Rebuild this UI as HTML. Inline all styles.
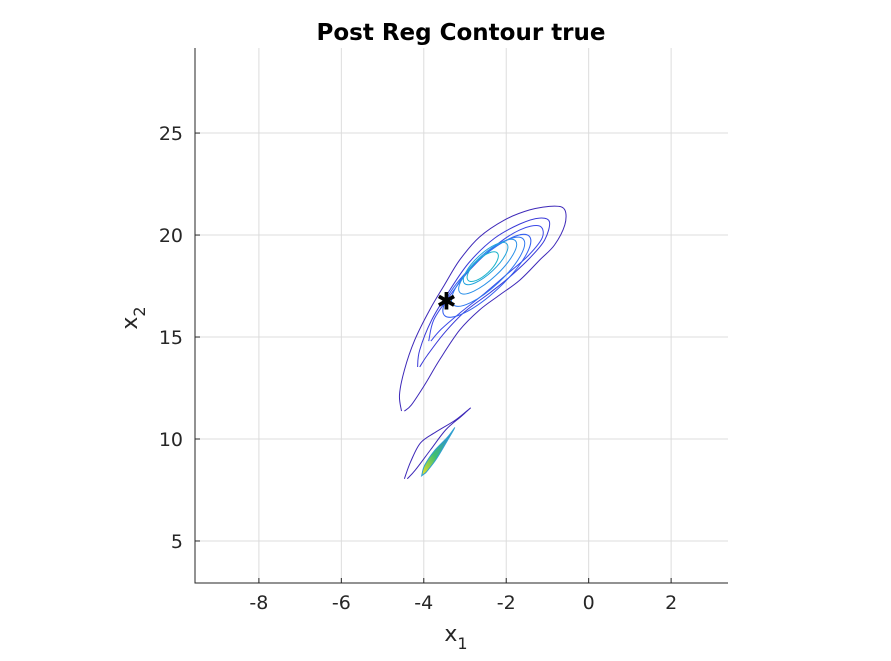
<!DOCTYPE html>
<html><head><meta charset="utf-8"><style>
body{margin:0;background:#fff;}
svg text{font-family:"DejaVu Sans","Liberation Sans",sans-serif;}
</style></head><body>
<svg id="c" width="891" height="656"></svg>
<script>
const xTicks=[-8,-6,-4,-2,0,2];
const yTicks=[5,10,15,20,25];
const contourOuter=[[-4.54,11.37],[-4.59,12.16],[-4.47,13.38],[-4.22,14.85],[-3.86,16.32],[-3.50,17.55],[-3.13,18.77],[-2.65,19.90],[-2.04,20.74],[-1.43,21.23],[-0.83,21.42],[-0.58,21.23],[-0.58,20.49],[-0.83,19.51],[-1.19,18.77],[-1.67,17.79],[-2.16,17.06],[-2.65,16.32],[-3.13,15.34],[-3.62,13.87],[-3.98,12.65],[-4.30,11.67],[-4.47,11.37]];
const contour2=[[-4.15,13.53],[-4.10,14.36],[-3.81,15.83],[-3.37,17.30],[-2.89,18.68],[-2.28,19.85],[-1.67,20.54],[-1.19,20.83],[-0.95,20.64],[-1.07,19.75],[-1.43,18.87],[-1.92,17.94],[-2.40,17.16],[-3.01,16.23],[-3.50,15.20],[-3.91,14.12],[-4.10,13.53]];
const contour3=[[-3.88,14.80],[-3.76,15.83],[-3.39,16.96],[-2.90,18.25],[-2.28,19.45],[-1.67,20.25],[-1.20,20.45],[-1.12,19.90],[-1.45,19.02],[-1.97,18.10],[-2.52,17.15],[-3.08,16.25],[-3.57,15.40],[-3.83,14.80]];
const innerCx=[-2.47,-2.44,-2.45,-2.50,-2.57];
const innerCy=[18.0,18.2,18.45,18.6,18.45];
const innerMajor=[58,48,38,29,20];
const innerMinor=[17,15,12,10,8];
const innerColors=['#3560f0','#2f78f0','#2a90e8','#22a4dc','#1cb4cc'];
const lowerOuter=[[-4.47,8.05],[-4.32,8.88],[-4.08,9.81],[-3.71,10.34],[-3.23,10.93],[-2.87,11.52],[-3.11,11.08],[-3.47,10.44],[-3.84,9.46],[-4.20,8.49],[-4.40,8.05]];
const lowerFill=[[-4.05,8.20],[-3.98,8.70],[-3.75,9.40],[-3.42,10.10],[-3.25,10.55],[-3.42,9.95],[-3.70,9.00],[-3.95,8.35]];
const marker=[-3.45,16.8];
const NS='http://www.w3.org/2000/svg';
const svg=document.getElementById('c');
const L=195,R=728,T=48,B=583,xmin=-9.55,xmax=3.38,ymin=2.94,ymax=29.17;
const sx=v=>L+(v-xmin)/(xmax-xmin)*(R-L);
const sy=v=>B-(v-ymin)/(ymax-ymin)*(B-T);
function el(t,a,p){const e=document.createElementNS(NS,t);for(const k in a)e.setAttribute(k,a[k]);(p||svg).appendChild(e);return e;}
const grid=el('g',{});


xTicks.forEach(v=>{const l=el('line',{x1:sx(v),x2:sx(v),y1:T,y2:B,stroke:'#dcdcdc','stroke-width':1},grid);


const t=el('text',{x:sx(v),y:B+26,'text-anchor':'middle','font-size':19,fill:'#262626'});t.textContent=v;

});
yTicks.forEach(v=>{const l=el('line',{x1:L,x2:R,y1:sy(v),y2:sy(v),stroke:'#dcdcdc','stroke-width':1},grid);


const t=el('text',{x:L-12,y:sy(v)+7,'text-anchor':'end','font-size':19,fill:'#262626'});t.textContent=v;

});
const ax=el('path',{d:`M${L},${T}V${B}H${R}`,fill:'none',stroke:'#262626','stroke-width':1});


xTicks.forEach(v=>el('line',{x1:sx(v),x2:sx(v),y1:B,y2:B-5,stroke:'#262626'}));
yTicks.forEach(v=>el('line',{x1:L,x2:L+5,y1:sy(v),y2:sy(v),stroke:'#262626'}));
function smooth(pts){const P=pts.map(p=>[sx(p[0]),sy(p[1])]);const n=P.length;let d='M'+P[0][0].toFixed(1)+','+P[0][1].toFixed(1);
for(let i=0;i<n-1;i++){const p0=P[Math.max(i-1,0)],p1=P[i],p2=P[i+1],p3=P[Math.min(i+2,n-1)];
const c1=[p1[0]+(p2[0]-p0[0])/6,p1[1]+(p2[1]-p0[1])/6],c2=[p2[0]-(p3[0]-p1[0])/6,p2[1]-(p3[1]-p1[1])/6];
d+=`C${c1[0].toFixed(1)},${c1[1].toFixed(1)} ${c2[0].toFixed(1)},${c2[1].toFixed(1)} ${p2[0].toFixed(1)},${p2[1].toFixed(1)}`;}
return d;}
function poly(pts,col,name,fill){const e=el('path',{d:smooth(pts)+(fill?'Z':''),fill:fill||'none',stroke:col,'stroke-width':1});

return e;}
poly(contourOuter,'#3d28b8','contour-level-1');
poly(contour2,'#3a3ad8','contour-level-2');
poly(contour3,'#3a48e8','contour-level-3');
innerMajor.forEach((a,i)=>{const cx=sx(innerCx[i]),cy=sy(innerCy[i]);const e=el('ellipse',{cx:cx,cy:cy,rx:a,ry:innerMinor[i],fill:'none',stroke:innerColors[i],'stroke-width':1,transform:`rotate(-43 ${cx} ${cy})`});

});
const defs=el('defs',{});
const g=el('linearGradient',{id:'lg',x1:0,y1:1,x2:1,y2:0},defs);
el('stop',{offset:'0','stop-color':'#f5e020'},g);el('stop',{offset:'0.4','stop-color':'#40c070'},g);el('stop',{offset:'1','stop-color':'#2a80f0'},g);
poly(lowerFill,'#30a0d0','lower-mode-core','url(#lg)');
poly(lowerOuter,'#3d28b8','lower-mode-contour');
const m=el('text',{x:sx(marker[0]),y:sy(marker[1])+9,'text-anchor':'middle','font-size':24,'font-weight':'bold',fill:'#000'});m.textContent='✱';


const ti=el('text',{x:461,y:40,'text-anchor':'middle','font-size':23,'font-weight':'bold',fill:'#000'});ti.textContent='Post Reg Contour true';


const xl=el('text',{x:456,y:641,'text-anchor':'middle','font-size':22,fill:'#262626'});xl.innerHTML='x<tspan dy="8" font-size="16">1</tspan>';


const yl=el('text',{x:137,y:318,'text-anchor':'middle','font-size':22,fill:'#262626',transform:'rotate(-90 137 318)'});yl.innerHTML='x<tspan dy="8" font-size="16">2</tspan>';


</script>
</body></html>
